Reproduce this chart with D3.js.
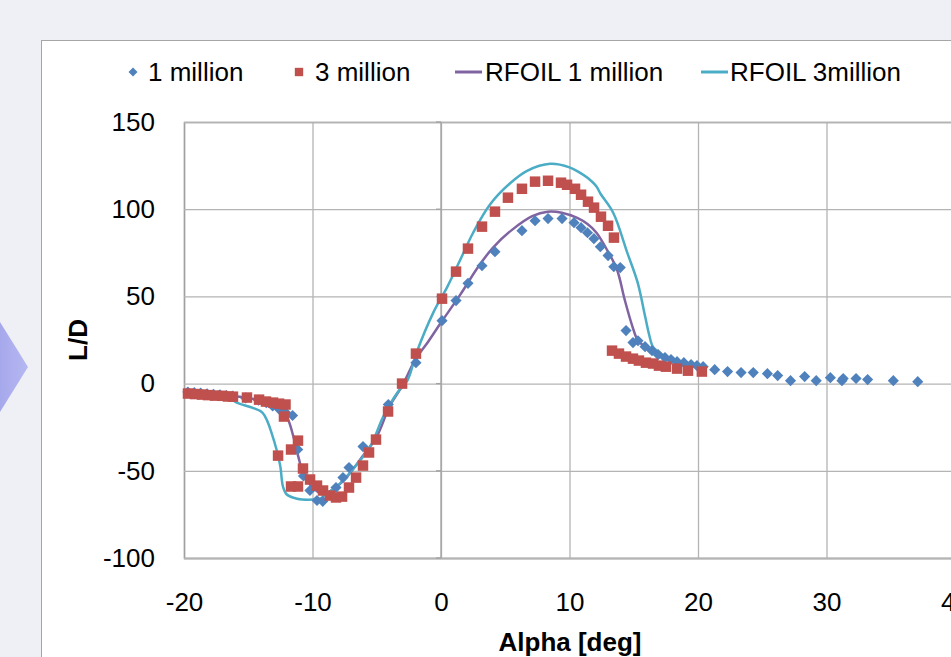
<!DOCTYPE html>
<html>
<head>
<meta charset="utf-8">
<script src="https://cdn.jsdelivr.net/npm/d3@7"></script>
<style>
  body { margin: 0; background: #eff0f5; }
  svg { display: block; }
  text { font-family: "Liberation Sans", Arial, sans-serif; fill: #000; }
</style>
</head>
<body>
<div id="chart"></div>
<script>
// 1 million (measured)
var alpha1 = [-19.7, -19.2, -18.7, -18.2, -17.7, -17.2, -16.7, -16.2, -15.2, -14.2, -13.6, -13.1, -12.6, -12.1, -11.55, -11.15, -10.7, -10.2, -9.65, -9.2, -8.17, -7.63, -7.16, -6.07, -4.1, -1.95, 0.08, 1.17, 2.1, 3.19, 4.2, 6.3, 7.32, 8.33, 9.42, 10.35, 10.9, 11.4, 11.9, 12.4, 13.0, 13.45, 13.95, 14.4, 14.94, 15.33, 15.88, 16.42, 16.9, 17.43, 17.9, 18.37, 18.9, 19.46, 19.92, 20.4, 21.3, 22.3, 23.35, 24.3, 25.4, 26.2, 27.2, 28.3, 29.2, 30.3, 31.2, 31.3, 32.3, 33.2, 35.2, 37.1];
var ld1 = [-4.8, -5.2, -5.5, -5.8, -6.1, -6.4, -6.8, -7.2, -8.2, -9.5, -11.0, -12.8, -14.6, -16.5, -18.3, -37.8, -53, -61.3, -67, -67.5, -59.6, -53.9, -48.1, -36.1, -12.0, 12.0, 36.1, 47.6, 57.5, 67.6, 75.6, 87.7, 93.4, 94.6, 94.6, 92.3, 89.4, 86.5, 83.1, 78.5, 73.4, 67.0, 66.5, 30.4, 23.5, 24.6, 21.2, 18.9, 16.6, 14.9, 13.8, 12.6, 12.0, 10.9, 10.3, 9.7, 8.0, 6.9, 6.3, 6.3, 5.7, 4.6, 1.7, 4.0, 1.7, 3.4, 1.7, 2.9, 2.9, 2.3, 1.7, 1.1];

// 3 million (measured)
var alpha3 = [-19.69, -19.14, -18.6, -18.13, -17.59, -17.04, -16.58, -16.19, -15.1, -14.16, -13.62, -13.07, -12.6, -12.1, -12.22, -12.68, -11.13, -11.67, -10.74, -10.19, -11.67, -11.13, -9.65, -9.18, -8.64, -8.17, -7.7, -7.16, -6.61, -6.07, -5.6, -5.06, -4.12, -3.03, -1.95, 0.08, 1.17, 2.1, 3.19, 4.2, 5.21, 6.3, 7.32, 8.33, 9.34, 9.81, 10.43, 10.9, 11.44, 11.91, 12.45, 13.0, 13.46, 13.31, 13.85, 14.4, 14.94, 15.4, 15.95, 16.5, 16.96, 17.5, 18.37, 19.22, 20.3];
var ld3 = [-5.7, -6.0, -6.3, -6.6, -6.9, -7.0, -7.4, -7.5, -8.0, -9.2, -10.3, -10.9, -11.5, -12.0, -18.9, -41.3, -32.7, -37.8, -48.7, -55.0, -59.0, -59.0, -58.5, -61.3, -64.2, -65.3, -64.8, -59.6, -53.9, -47.0, -39.5, -32.1, -16.0, 0, 17.2, 48.7, 64.2, 77.4, 90.0, 98.6, 106.6, 111.7, 115.8, 116.3, 115.2, 114.0, 111.7, 108.3, 104.3, 100.9, 95.7, 90.5, 83.7, 18.9, 17.2, 15.5, 14.3, 13.2, 12.0, 11.5, 10.3, 9.7, 8.6, 7.4, 6.9];

// RFOIL 1 million
var alphaR1 = [-20, -18, -16, -14.5, -13.5, -12.8, -12.3, -11.9, -11.5, -11.1, -10.7, -10.3, -9.6, -9.2, -8.4, -7.3, -6.3, -5, -4, -3, -2, -1, 0, 1.5, 2.9, 4.05, 5.5, 7.1, 8.3, 9.4, 10.6, 11.4, 12.1, 13, 13.7, 14.3, 14.9, 15.3, 15.9, 16.5];
var ldR1 = [-4.8, -5.8, -7.3, -9, -11, -13.5, -16, -20.6, -30, -42, -52, -57, -62, -63.6, -60.7, -53.3, -43.6, -30.4, -13, -1, 13.7, 24, 35, 51, 67, 78, 88, 96, 98.6, 98, 95, 91.5, 86.5, 75.6, 65.3, 48, 32.7, 25, 21, 18];

// RFOIL 3million
var alphaR3 = [-20, -18, -16.5, -15.9, -14.7, -13.9, -13.5, -13.2, -12.8, -12.5, -12.3, -12, -11.2, -10, -9.4, -8.8, -8.1, -6.85, -5.5, -4.5, -3.4, -2.6, -1.9, -0.6, 0.5, 1.5, 2.5, 3.8, 5.4, 6.7, 8.5, 10, 10.8, 11.4, 12.1, 12.4, 13.4, 14.5, 15.3, 15.9, 16.2, 16.5, 17, 18, 19, 20];
var ldR3 = [-4.8, -5.8, -8, -10.9, -13.8, -16.6, -21.8, -28, -37.8, -47.6, -59, -63.6, -66, -66.5, -66, -62.5, -59, -49, -36, -19, -5.2, 2, 17.8, 40.7, 55.6, 71, 86.5, 102.6, 115, 122, 126, 124, 121, 118, 113, 109, 98, 75, 58, 38, 28, 21, 17.8, 12.6, 10.5, 9.5];

var xTicks = [-20, -10, 0, 10, 20, 30, 40];
var yTicks = [-100, -50, 0, 50, 100, 150];
var seriesNames = ["1 million", "3 million", "RFOIL 1 million", "RFOIL 3million"];

const w = 951;
const h = 657;
const plotLeft = 184, plotRight = 955, plotTop = 122, plotBottom = 558;

const svg = d3.select("#chart")
    .append("svg")
    .attr("width", w)
    .attr("height", h);

// page background + decorative arrow on the left
var grad = svg.append("defs").append("linearGradient")
    .attr("id", "arrowGrad")
    .attr("x1", "0%").attr("x2", "100%");
grad.append("stop").attr("offset", "0%").attr("stop-color", "#a6a8ec");
grad.append("stop").attr("offset", "100%").attr("stop-color", "#b6b8f2");

svg.append("rect").attr("width", w).attr("height", h).attr("fill", "#eff0f5");
svg.append("polygon")
    .attr("points", "0,322 28,367 0,412")
    .attr("fill", "url(#arrowGrad)");

// chart box
svg.append("rect")
    .attr("x", 41.5).attr("y", 40.5)
    .attr("width", 1000).attr("height", 700)
    .attr("fill", "#fff")
    .attr("stroke", "#a6a6a6");

const xScale = d3.scaleLinear().domain([-20, 40]).range([plotLeft, plotRight]);
const yScale = d3.scaleLinear().domain([-100, 150]).range([plotBottom, plotTop]);

// Gridlines + tick labels (plain hyphen for negatives, like the original)
const xAxis = d3.axisBottom(xScale).tickValues(xTicks).tickFormat((d) => String(d))
    .tickSize(-(plotBottom - plotTop)).tickPadding(35);
const yAxis = d3.axisLeft(yScale).tickValues(yTicks).tickFormat((d) => String(d))
    .tickSize(-(plotRight - plotLeft)).tickPadding(29);

var gx = svg.append("g")
    .attr("id", "x-axis")
    .attr("transform", "translate(0," + plotBottom + ")")
    .call(xAxis);
var gy = svg.append("g")
    .attr("id", "y-axis")
    .attr("transform", "translate(" + plotLeft + ",0)")
    .call(yAxis);

[gx, gy].forEach(function (g) {
    g.select(".domain").attr("stroke", "#a0a0a0").attr("stroke-width", 1.3);
    g.selectAll(".tick line").attr("stroke", "#b4b4b4").attr("stroke-width", 1.3);
    g.selectAll(".tick text")
        .attr("font-size", 26)
        .attr("font-family", "Liberation Sans, Arial, sans-serif")
        .attr("fill", "#000");
});

// vertical axis at alpha = 0, with small tick marks
svg.append("line")
    .attr("x1", xScale(0)).attr("x2", xScale(0))
    .attr("y1", plotTop).attr("y2", plotBottom)
    .attr("stroke", "#a2a2a2").attr("stroke-width", 1.3);
svg.selectAll(".ytk")
    .data(yTicks)
    .enter()
    .append("line")
    .attr("x1", xScale(0) - 5).attr("x2", xScale(0))
    .attr("y1", (d) => yScale(d)).attr("y2", (d) => yScale(d))
    .attr("stroke", "#a2a2a2").attr("stroke-width", 1.3);

// Axis titles
svg.append("text")
    .attr("transform", "translate(87,340) rotate(-90)")
    .attr("text-anchor", "middle")
    .attr("font-size", 26)
    .attr("font-weight", "bold")
    .text("L/D");
svg.append("text")
    .attr("x", 570).attr("y", 651)
    .attr("text-anchor", "middle")
    .attr("font-size", 26)
    .attr("font-weight", "bold")
    .text("Alpha [deg]");

const colors = ["#4f81bd", "#c0504d", "#8064a2", "#4bacc6"];

const line = d3.line()
    .x((d) => xScale(d[0]))
    .y((d) => yScale(d[1]))
    .curve(d3.curveCatmullRom.alpha(0.5));

const plot = svg.append("g");

plot.append("path")
    .datum(d3.zip(alphaR1, ldR1))
    .attr("d", line)
    .attr("fill", "none")
    .attr("stroke", colors[2])
    .attr("stroke-width", 2.5);

plot.append("path")
    .datum(d3.zip(alphaR3, ldR3))
    .attr("d", line)
    .attr("fill", "none")
    .attr("stroke", colors[3])
    .attr("stroke-width", 2.5);

const diamond = d3.symbol().type(d3.symbolSquare).size(62);
const square = d3.symbol().type(d3.symbolSquare).size(110);

plot.selectAll(".pt1")
    .data(d3.zip(alpha1, ld1))
    .enter()
    .append("path")
    .attr("class", "pt1")
    .attr("d", diamond)
    .attr("transform", (d) => "translate(" + xScale(d[0]) + "," + yScale(d[1]) + ") rotate(45)")
    .attr("fill", colors[0]);

plot.selectAll(".pt3")
    .data(d3.zip(alpha3, ld3))
    .enter()
    .append("path")
    .attr("class", "pt3")
    .attr("d", square)
    .attr("transform", (d) => "translate(" + xScale(d[0]) + "," + yScale(d[1]) + ")")
    .attr("fill", colors[1]);

// Legend
const legendX = [133, 299, 455, 701];
const textX = [148, 315, 485, 730];
const legend = svg.append("g").attr("id", "legend");

legend.append("path")
    .attr("d", d3.symbol().type(d3.symbolSquare).size(40))
    .attr("transform", "translate(" + legendX[0] + ",72) rotate(45)")
    .attr("fill", colors[0]);
legend.append("path")
    .attr("d", d3.symbol().type(d3.symbolSquare).size(70))
    .attr("transform", "translate(" + legendX[1] + ",72)")
    .attr("fill", colors[1]);
[2, 3].forEach(function (i) {
    legend.append("line")
        .attr("x1", legendX[i]).attr("x2", legendX[i] + 27)
        .attr("y1", 72).attr("y2", 72)
        .attr("stroke", colors[i])
        .attr("stroke-width", 3);
});
legend.selectAll("text")
    .data(seriesNames)
    .enter()
    .append("text")
    .attr("x", (d, i) => textX[i])
    .attr("y", 81)
    .attr("font-size", 26)
    .text((d) => d);
</script>
</body>
</html>
